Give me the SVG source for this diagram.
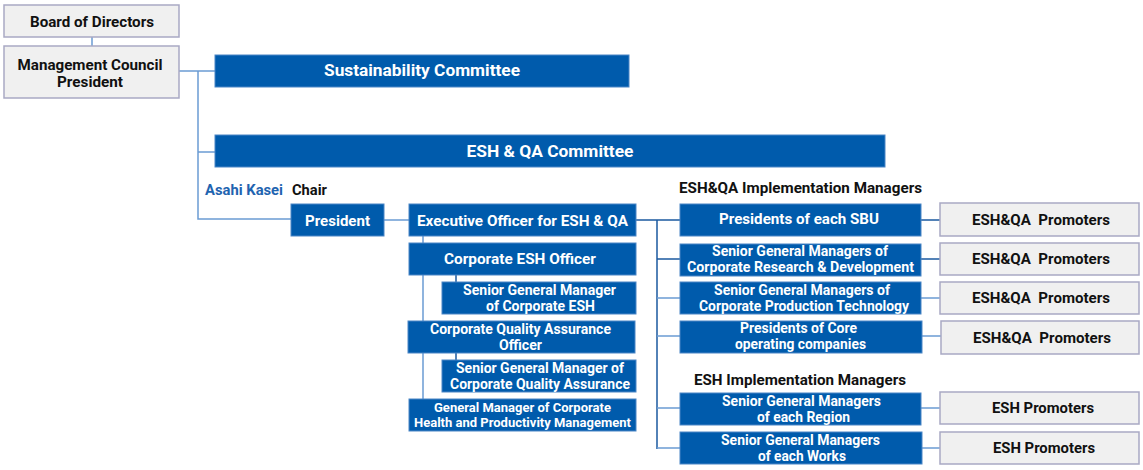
<svg xmlns="http://www.w3.org/2000/svg" width="1143" height="470" viewBox="0 0 1143 470">
<style>
.g{fill:#f0f0f0;stroke:#a9a9c4;stroke-width:1.5}
.b{fill:#005bac;stroke:#4b86c6;stroke-width:1}
.t{font-family:Roboto,"Liberation Sans",sans-serif;font-weight:bold;text-anchor:middle}
.w{fill:#ffffff}
.k{fill:#111111}
.lc{stroke:#6b9cd3;stroke-width:1.5;fill:none}
.dc{stroke:#1b5aa0;stroke-width:1.5;fill:none}
</style>
<rect width="1143" height="470" fill="#ffffff"/>
<g id="connectors">
<path class="lc" d="M92 37V46M179 71H215M198 71V219H291M198 152H215M384 220H409M423 236V399"/>
<path class="dc" d="M456 275V282M456 353V360"/>
<path class="dc" d="M636 220H680M657 220V449M657 259H680M921 220H940M921 259H940"/>
<path class="lc" d="M657 298H680M657 336H680M657 408H680M657 448H680M921 298H940M922 336H941M921 408H940M921 448H940"/>
</g>
<g id="board"><rect class="g" x="4" y="5" width="175" height="32"/><text class="t k" x="92" y="27" font-size="14.5" textLength="124" lengthAdjust="spacingAndGlyphs">Board of Directors</text></g>
<g id="council"><rect class="g" x="4" y="46" width="175" height="52"/><text class="t k" x="90" y="70" font-size="14.5" textLength="145" lengthAdjust="spacingAndGlyphs">Management Council</text><text class="t k" x="90" y="87" font-size="14.5" textLength="66" lengthAdjust="spacingAndGlyphs">President</text></g>
<g id="sustainability"><rect class="b" x="215" y="55" width="414" height="32"/><text class="t w" x="422" y="76" font-size="17" textLength="196" lengthAdjust="spacingAndGlyphs">Sustainability Committee</text></g>
<g id="eshqa-committee"><rect class="b" x="215" y="135" width="670" height="32"/><text class="t w" x="550" y="157" font-size="17" textLength="167" lengthAdjust="spacingAndGlyphs">ESH &amp; QA Committee</text></g>
<g id="chair-label"><text class="t" x="244" y="195" font-size="14.5" fill="#1f64b0" textLength="78" lengthAdjust="spacingAndGlyphs">Asahi Kasei</text><text class="t k" x="309.5" y="195" font-size="14.5" textLength="35" lengthAdjust="spacingAndGlyphs">Chair</text></g>
<g id="president"><rect class="b" x="291" y="204" width="93" height="32"/><text class="t w" x="337.5" y="226" font-size="15" textLength="65" lengthAdjust="spacingAndGlyphs">President</text></g>
<g id="exec"><rect class="b" x="409" y="204" width="227" height="32"/><text class="t w" x="522.5" y="226" font-size="15" textLength="211" lengthAdjust="spacingAndGlyphs">Executive Officer for ESH &amp; QA</text></g>
<g id="corp-esh"><rect class="b" x="409" y="243" width="227" height="32"/><text class="t w" x="520" y="264" font-size="15" textLength="152" lengthAdjust="spacingAndGlyphs">Corporate ESH Officer</text></g>
<g id="sgm-esh"><rect class="b" x="442" y="282" width="194" height="32"/><text class="t w" x="539.5" y="295" font-size="14" textLength="153" lengthAdjust="spacingAndGlyphs">Senior General Manager</text><text class="t w" x="540.5" y="311" font-size="14" textLength="109" lengthAdjust="spacingAndGlyphs">of Corporate ESH</text></g>
<g id="corp-qa"><rect class="b" x="408" y="321" width="227" height="32"/><text class="t w" x="520.5" y="334" font-size="14" textLength="181" lengthAdjust="spacingAndGlyphs">Corporate Quality Assurance</text><text class="t w" x="520.5" y="350" font-size="14" textLength="43" lengthAdjust="spacingAndGlyphs">Officer</text></g>
<g id="sgm-qa"><rect class="b" x="442" y="360" width="194" height="32"/><text class="t w" x="540" y="373" font-size="14" textLength="168" lengthAdjust="spacingAndGlyphs">Senior General Manager of</text><text class="t w" x="540" y="389" font-size="14" textLength="180" lengthAdjust="spacingAndGlyphs">Corporate Quality Assurance</text></g>
<g id="gm-health"><rect class="b" x="409" y="399" width="227" height="32"/><text class="t w" x="522.5" y="412" font-size="12.5" textLength="177" lengthAdjust="spacingAndGlyphs">General Manager of Corporate</text><text class="t w" x="522.5" y="427" font-size="12.5" textLength="217" lengthAdjust="spacingAndGlyphs">Health and Productivity Management</text></g>
<g id="header-eshqa"><text class="t k" x="800.5" y="193" font-size="14.5" textLength="243" lengthAdjust="spacingAndGlyphs">ESH&amp;QA Implementation Managers</text></g>
<g id="sbu"><rect class="b" x="680" y="204" width="241" height="32"/><text class="t w" x="799" y="224" font-size="15" textLength="160" lengthAdjust="spacingAndGlyphs">Presidents of each SBU</text></g>
<g id="rd"><rect class="b" x="680" y="244" width="241" height="32"/><text class="t w" x="800" y="256" font-size="14" textLength="176" lengthAdjust="spacingAndGlyphs">Senior General Managers of</text><text class="t w" x="800.5" y="272" font-size="14" textLength="227" lengthAdjust="spacingAndGlyphs">Corporate Research &amp; Development</text></g>
<g id="prod"><rect class="b" x="680" y="282" width="241" height="32"/><text class="t w" x="802" y="295" font-size="14" textLength="176" lengthAdjust="spacingAndGlyphs">Senior General Managers of</text><text class="t w" x="804" y="311" font-size="14" textLength="210" lengthAdjust="spacingAndGlyphs">Corporate Production Technology</text></g>
<g id="core"><rect class="b" x="680" y="321" width="242" height="32"/><text class="t w" x="798.5" y="333" font-size="14" textLength="117" lengthAdjust="spacingAndGlyphs">Presidents of Core</text><text class="t w" x="800.5" y="349" font-size="14" textLength="131" lengthAdjust="spacingAndGlyphs">operating companies</text></g>
<g id="header-esh"><text class="t k" x="800" y="385" font-size="14.5" textLength="212" lengthAdjust="spacingAndGlyphs">ESH Implementation Managers</text></g>
<g id="region"><rect class="b" x="680" y="393" width="241" height="32"/><text class="t w" x="801.5" y="406" font-size="14" textLength="159" lengthAdjust="spacingAndGlyphs">Senior General Managers</text><text class="t w" x="803.5" y="422" font-size="14" textLength="93" lengthAdjust="spacingAndGlyphs">of each Region</text></g>
<g id="works"><rect class="b" x="680" y="432" width="242" height="32"/><text class="t w" x="800.5" y="445" font-size="14" textLength="159" lengthAdjust="spacingAndGlyphs">Senior General Managers</text><text class="t w" x="802" y="461" font-size="14" textLength="88" lengthAdjust="spacingAndGlyphs">of each Works</text></g>
<g id="prom1"><rect class="g" x="940" y="203" width="199" height="33"/><text class="t k" x="1041" y="225" font-size="15" textLength="138" lengthAdjust="spacingAndGlyphs" xml:space="preserve">ESH&amp;QA  Promoters</text></g>
<g id="prom2"><rect class="g" x="940" y="243" width="199" height="32"/><text class="t k" x="1041" y="264" font-size="15" textLength="138" lengthAdjust="spacingAndGlyphs" xml:space="preserve">ESH&amp;QA  Promoters</text></g>
<g id="prom3"><rect class="g" x="940" y="282" width="199" height="32"/><text class="t k" x="1041" y="303" font-size="15" textLength="138" lengthAdjust="spacingAndGlyphs" xml:space="preserve">ESH&amp;QA  Promoters</text></g>
<g id="prom4"><rect class="g" x="941" y="321" width="198" height="33"/><text class="t k" x="1042" y="343" font-size="15" textLength="138" lengthAdjust="spacingAndGlyphs" xml:space="preserve">ESH&amp;QA  Promoters</text></g>
<g id="prom5"><rect class="g" x="940" y="392" width="199" height="32"/><text class="t k" x="1043" y="413" font-size="15" textLength="102" lengthAdjust="spacingAndGlyphs">ESH Promoters</text></g>
<g id="prom6"><rect class="g" x="940" y="432" width="199" height="32"/><text class="t k" x="1044" y="453" font-size="15" textLength="102" lengthAdjust="spacingAndGlyphs">ESH Promoters</text></g>
</svg>
